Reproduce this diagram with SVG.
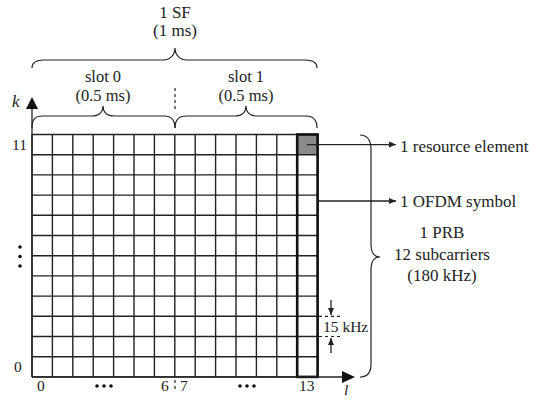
<svg xmlns="http://www.w3.org/2000/svg" width="534" height="399" viewBox="0 0 534 399">
<style>
text{font-family:"Liberation Serif","Times New Roman",serif;font-size:17px;fill:#222}
.c{text-anchor:middle}
.s{font-size:15.5px}
.m{font-size:16.5px}
.grid{stroke:#222;stroke-width:1.4;fill:none}
.brace{stroke:#222;stroke-width:1.2;fill:none}
.ln{stroke:#222;stroke-width:1.3;fill:none}
.dash{stroke:#222;stroke-width:1.2;stroke-dasharray:3,3;fill:none}
</style>
<defs>
<marker id="ah" markerWidth="8" markerHeight="8" refX="7" refY="4" orient="auto" markerUnits="userSpaceOnUse">
<path d="M0,1 L7,4 L0,7 z" fill="#222"/>
</marker>
</defs>
<g id="titles">
<text class="c" x="175" y="18">1 SF</text>
<text class="c" x="175" y="36">(1 ms)</text>
<text class="c m" x="103" y="82">slot 0</text>
<text class="c m" x="103" y="100.5">(0.5 ms)</text>
<text class="c m" x="246" y="82">slot 1</text>
<text class="c m" x="246" y="100.5">(0.5 ms)</text>
</g>
<g id="braces">
<path class="brace" d="M32,68 C32,62 36,60 44,60 L163,60 C170,60 175,55 175,48 C175,55 180,60 187,60 L305,60 C313,60 317,62 317,68"/>
<path class="brace" d="M32,128 C32,119 35,116 43,116 L92,116 C99,116 103,112 103,106 C103,112 107,116 114,116 L164,116 C171,116 175,119 175,128"/>
<path class="brace" d="M175,128 C175,119 179,116 186,116 L235,116 C242,116 246,112 246,106 C246,112 250,116 257,116 L306,116 C313,116 317,119 317,128"/>
<path class="brace" d="M360,135 C367,135 371,139 371,150 L371,245 C371,252 374,257 380,257 C374,257 371,262 371,270 L371,364 C371,373 367,377 360,377"/>
<path class="dash" d="M175,88 V112"/>
</g>
<g id="grid">
<rect x="297.2" y="134.5" width="20.4" height="20.2" fill="#8a8a8a"/>
<path class="grid" d="M32,134.5 V376.9 M52.4,134.5 V376.9 M72.8,134.5 V376.9 M93.2,134.5 V376.9 M113.6,134.5 V376.9 M134,134.5 V376.9 M154.4,134.5 V376.9 M174.8,134.5 V376.9 M195.2,134.5 V376.9 M215.6,134.5 V376.9 M236,134.5 V376.9 M256.4,134.5 V376.9 M276.8,134.5 V376.9 M297.2,134.5 V376.9 M317.6,134.5 V376.9
M32,134.5 H317.6 M32,154.7 H317.6 M32,174.9 H317.6 M32,195.1 H317.6 M32,215.3 H317.6 M32,235.5 H317.6 M32,255.7 H317.6 M32,275.9 H317.6 M32,296.1 H317.6 M32,316.3 H317.6 M32,336.5 H317.6 M32,356.7 H317.6 M32,376.9 H317.6"/>
<rect x="297.2" y="134.5" width="20.4" height="242.4" fill="none" stroke="#111" stroke-width="2.6"/>
</g>
<g id="axes">
<path class="ln" d="M32,108 V377"/>
<polygon points="32,97 26,109 38,109" fill="#111"/>
<text x="12" y="107" font-style="italic">k</text>
<path class="ln" d="M32,377 H343"/>
<polygon points="355,377 342,371 342,383" fill="#111"/>
<text class="s" x="344" y="395" font-style="italic">l</text>
<text class="s" x="12" y="150">11</text>
<text class="s" x="14" y="372">0</text>
<circle cx="20" cy="247" r="1.8" fill="#111"/>
<circle cx="20" cy="256.5" r="1.8" fill="#111"/>
<circle cx="20" cy="266" r="1.8" fill="#111"/>
<text class="s" x="37" y="391">0</text>
<circle cx="97" cy="386" r="1.8" fill="#111"/>
<circle cx="104" cy="386" r="1.8" fill="#111"/>
<circle cx="111" cy="386" r="1.8" fill="#111"/>
<text class="s" x="161" y="391">6</text>
<path class="dash" d="M175,380 V392"/>
<text class="s" x="180" y="391">7</text>
<circle cx="240" cy="386" r="1.8" fill="#111"/>
<circle cx="247" cy="386" r="1.8" fill="#111"/>
<circle cx="254" cy="386" r="1.8" fill="#111"/>
<text class="s" x="299" y="391">13</text>
</g>
<g id="connectors">
<path class="ln" d="M307,144.6 H396" marker-end="url(#ah)"/>
<path class="ln" d="M318,201 H396" marker-end="url(#ah)"/>
<path class="dash" d="M319,316.3 H340 M319,336.5 H340"/>
<path class="ln" d="M331,300 V315" marker-end="url(#ah)"/>
<path class="ln" d="M331,353 V338" marker-end="url(#ah)"/>
</g>
<g id="labels">
<text x="400" y="152">1 resource element</text>
<text x="400" y="207">1 OFDM symbol</text>
<text class="c" x="442" y="238">1 PRB</text>
<text class="c" x="442" y="260">12 subcarriers</text>
<text class="c" x="442" y="281">(180 kHz)</text>
<text class="s" x="323" y="332">15 kHz</text>
</g>
</svg>
